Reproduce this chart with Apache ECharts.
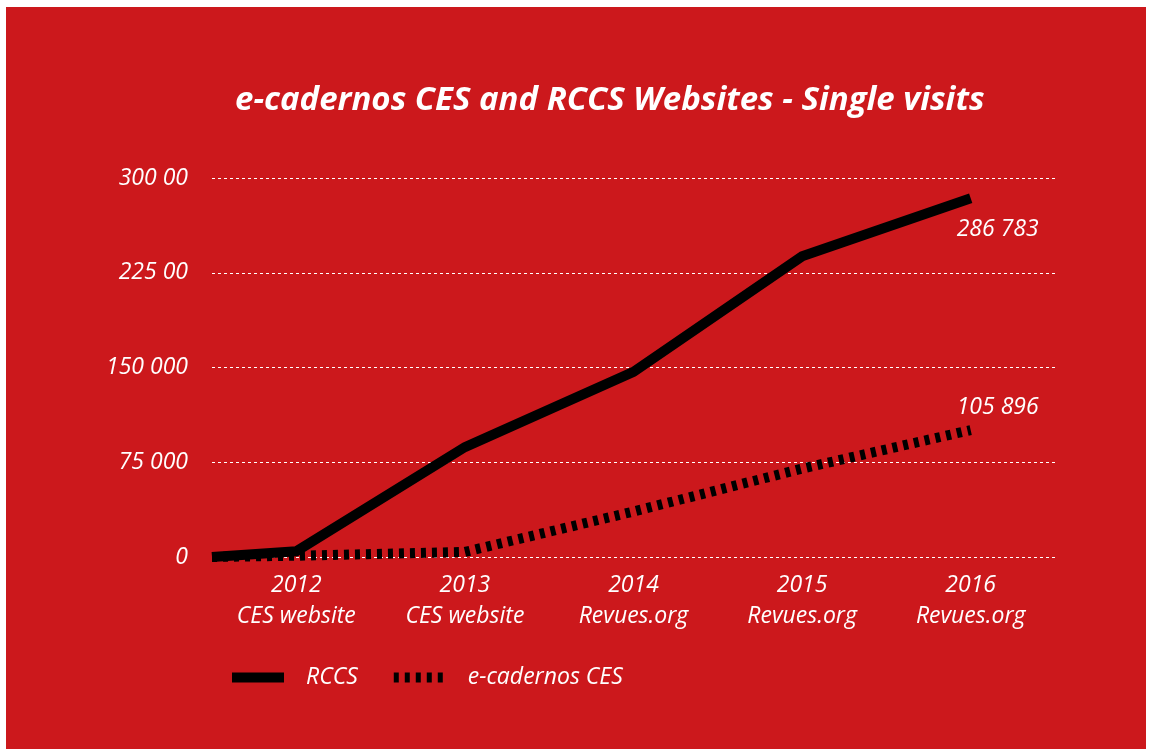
<!DOCTYPE html>
<html lang="en">
  <head>
    <meta charset="utf-8">
    <script src="https://cdn.jsdelivr.net/npm/echarts@6.0.0/dist/echarts.min.js"></script>
    <style>
      body { margin: 0; background: #ffffff; }
      #chart { position: absolute; left: 6px; top: 7px; width: 1140px; height: 742px; }
    </style>
  </head>
  <body>
    <div id="chart"></div>
    <script>
      // Categories (years + where the site was hosted)
      const years = ['2012', '2013', '2014', '2015', '2016'];
      const hosts = ['CES website', 'CES website', 'Revues.org', 'Revues.org', 'Revues.org'];

      // Values: first value is the start at the left edge of the axis
      const rccsStart = 0;
      const rccsValues = [4500, 87000, 146500, 238000, 284000];
      const ecadStart = 0;
      const ecadValues = [1000, 4000, 36000, 70000, 100500];

      // Labels printed at the end of each line
      const rccsEndLabel = '286 783';
      const ecadEndLabel = '105 896';

      // Y tick labels as printed in the original
      const yTickLabels = ['0', '75 000', '150 000', '225 00', '300 00'];

      const font = 'Open Sans';
      const red = '#cc181c';

      // half-step category axis: blank slot around each year so the lines start at the axis edge
      var cats = [''];
      var rccs = [rccsStart];
      var ecad = [ecadStart];
      for (let i = 0; i < years.length; i++) {
        cats.push(years[i] + '\n' + hosts[i]);
        rccs.push(rccsValues[i]);
        ecad.push(ecadValues[i]);
        cats.push('');
        rccs.push(null);
        ecad.push(null);
      }

      var myChart = echarts.init(document.getElementById('chart'));

      var txt = {
        color: '#fff',
        fontFamily: font,
        fontStyle: 'italic',
        fontSize: 23
      };

      var option = {
        backgroundColor: red,
        animation: false,
        title: {
          text: 'e-cadernos CES and RCCS Websites - Single visits',
          left: 224,
          top: 72,
          textStyle: {
            color: '#fff',
            fontFamily: font,
            fontStyle: 'italic',
            fontWeight: 'bold',
            fontSize: 33
          }
        },
        grid: {
          left: 206,
          right: 91,
          top: 171,
          bottom: 192
        },
        xAxis: {
          type: 'category',
          data: cats,
          boundaryGap: false,
          axisLine: { show: false },
          axisTick: { show: false },
          splitLine: { show: false },
          axisLabel: Object.assign({
            interval: 0,
            lineHeight: 31,
            margin: 13
          }, txt)
        },
        yAxis: {
          type: 'value',
          min: 0,
          max: 300000,
          interval: 75000,
          axisLine: { show: false },
          axisTick: { show: false },
          axisLabel: Object.assign({
            margin: 24,
            formatter: function (v) { return yTickLabels[Math.round(v / 75000)]; }
          }, txt),
          splitLine: {
            lineStyle: { color: '#fff', width: 1, type: [3, 3] }
          }
        },
        legend: {
          left: 216,
          top: 654,
          itemWidth: 52,
          itemHeight: 24,
          itemGap: 31,
          itemStyle: { opacity: 0 },
          lineStyle: { width: 10, cap: 'butt' },
          textStyle: Object.assign({ padding: [0, 0, 0, 17] }, txt),
          data: ['RCCS', 'e-cadernos CES']
        },
        series: [
          {
            name: 'RCCS',
            type: 'line',
            data: rccs,
            connectNulls: true,
            symbol: 'none',
            lineStyle: { color: '#000', width: 10, cap: 'butt', join: 'miter' },
            itemStyle: { color: '#000' },
            endLabel: Object.assign({
              show: true,
              formatter: rccsEndLabel,
              offset: [-22, 31]
            }, txt)
          },
          {
            name: 'e-cadernos CES',
            type: 'line',
            data: ecad,
            connectNulls: true,
            symbol: 'none',
            lineStyle: { color: '#000', width: 10, type: [5, 6], cap: 'butt' },
            itemStyle: { color: '#000' },
            endLabel: Object.assign({
              show: true,
              formatter: ecadEndLabel,
              offset: [-22, -23]
            }, txt)
          }
        ]
      };
      myChart.setOption(option);
    </script>
  </body>
</html>
